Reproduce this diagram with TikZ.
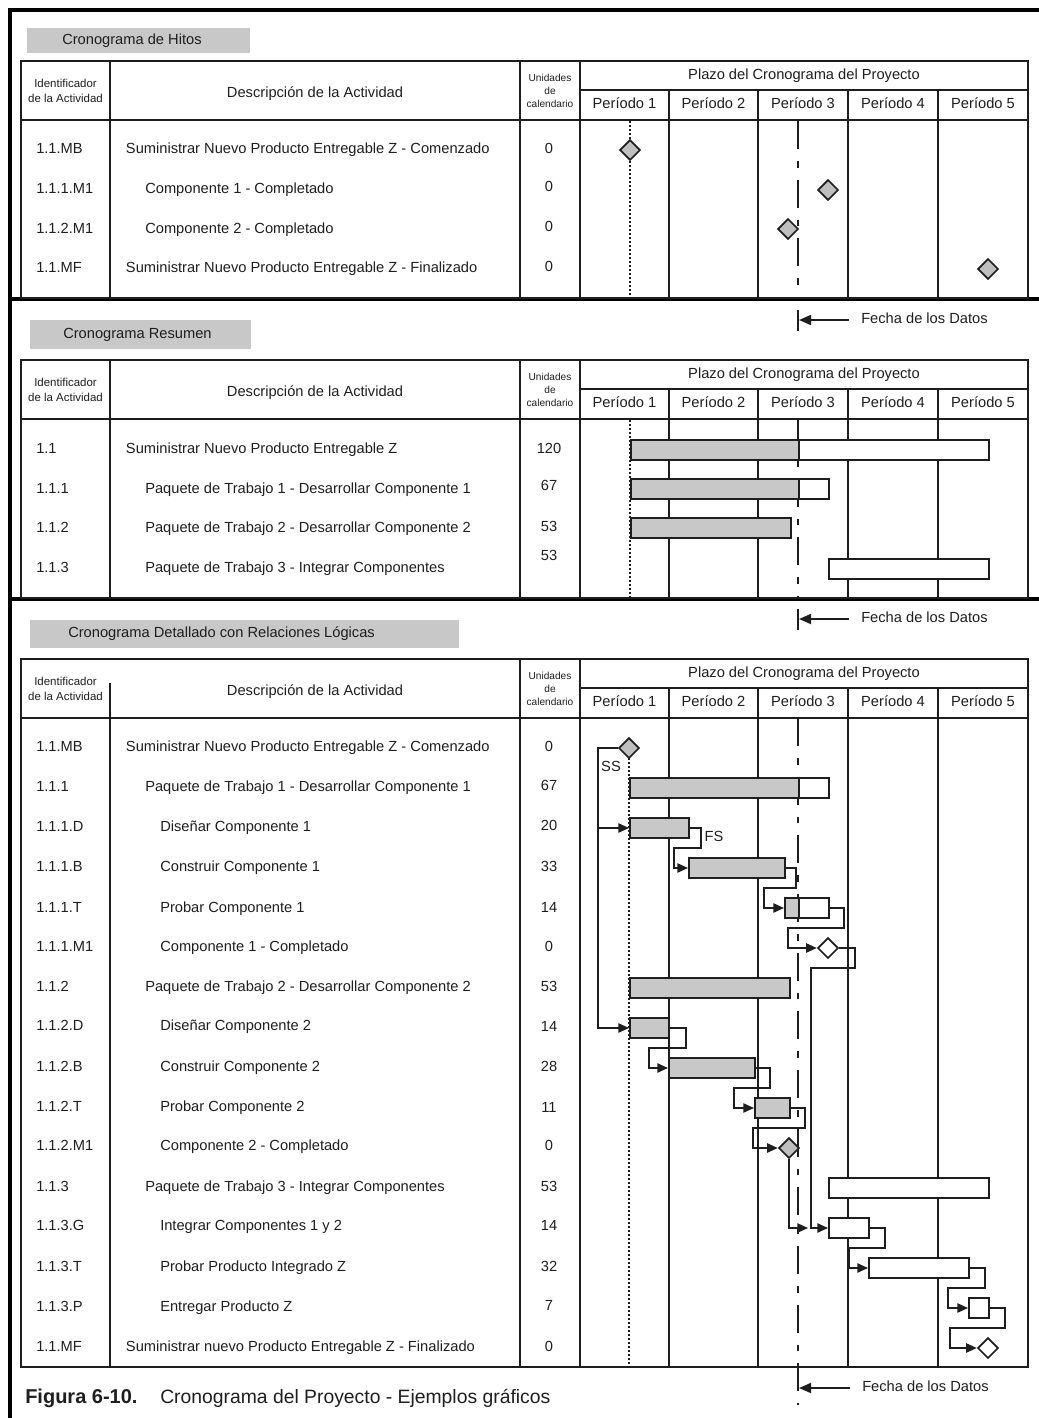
\documentclass[tikz,border=0pt]{standalone}
\usepackage{fontspec}
\setmainfont{Liberation Sans}
\usetikzlibrary{shapes.geometric,arrows.meta,calc}
\definecolor{ink}{RGB}{30,30,30}
\definecolor{barfill}{RGB}{200,200,200}
\definecolor{boxfill}{RGB}{200,200,200}
\definecolor{msfill}{RGB}{190,190,190}
\newcommand\gtable[3]{%
  \draw[tbl] (21,#1) rectangle (1028,#2);
  \draw[tbl] (21,#1+59) -- (1028,#1+59);
  \draw[tbl] (580,#1+29) -- (1028,#1+29);
  \draw[tbl] (520,#1) -- (520,#2);
  \draw[tbl] (580,#1) -- (580,#2);
  \foreach \xx in {669,758,848,938} {\draw[tbl] (\xx,#1+29) -- (\xx,#2);}
  \node[hid] (#3id) at (65.5,#1+30) {Identificador\\de la Actividad};
  \node[hdesc] (#3desc) at (315,#1+33) {Descripción de la Actividad};
  \node[hunit] (#3unit) at (550,#1+30) {Unidades\\de\\calendario};
  \node[hdesc] (#3plazo) at (804,#1+15) {Plazo del Cronograma del Proyecto};
  \foreach \ii/\xx in {1/624.5,2/713.5,3/803,4/893,5/983} {\node[hdesc] (#3p\ii) at (\xx,#1+44.5) {Período \ii};}
}
\newcommand\rowtext[7]{%
  \node[rowtxt,anchor=west] (#1i) at (36,#2) {#3};
  \node[rowtxt,anchor=west] (#1d) at (#4,#2) {#5};
  \node[rowtxt] (#1u) at (549,#7) {#6};
}
\begin{document}
\begin{tikzpicture}[x=0.75pt,y=-0.75pt,
  every node/.style={text=ink, inner sep=0pt},
  rowtxt/.style={font=\fontsize{11}{13}\selectfont, text height=7.6pt, text depth=3pt},
  hdesc/.style={font=\fontsize{11}{13}\selectfont, text height=7.6pt, text depth=3pt},
  hid/.style={font=\fontsize{8.6}{11.5}\selectfont, align=center},
  hunit/.style={font=\fontsize{7.6}{9.8}\selectfont, align=center},
  titletxt/.style={font=\fontsize{11}{13}\selectfont, text height=7.6pt, text depth=3pt, anchor=west},
  frame/.style={draw=black, line width=3.5pt},
  sep/.style={draw=black, line width=2.6pt},
  tbl/.style={draw=ink, line width=1.4pt},
  dotline/.style={draw=ink, line width=1.5pt, dash pattern=on 1.2pt off 1.8pt},
  dateline/.style={draw=ink, line width=1.5pt, dash pattern=on 21pt off 9pt on 5pt off 9pt},
  gbar/.style={draw=ink, line width=1.4pt, fill=barfill, minimum height=15pt, anchor=west},
  wbar/.style={gbar, fill=white},
  msg/.style={diamond, draw=ink, line width=1.3pt, fill=msfill, minimum width=15.5pt, minimum height=15.5pt, inner sep=0pt},
  msw/.style={msg, fill=white},
  conn/.style={draw=ink, line width=1.1pt, -{Triangle[length=8pt,width=7pt]}},
  datearr/.style={draw=ink, line width=1.3pt, -{Triangle[length=9pt,width=7.5pt]}, shorten <=9pt},
]
\useasboundingbox (0,0) rectangle (1039,1418);

% ---------- outer frame and separators
\draw[frame] (10,1418) -- (10,10) -- (1039,10);
\draw[sep] (10,299) -- (1039,299);
\draw[sep] (10,599) -- (1039,599);

% ---------- title boxes
\fill[boxfill] (27,28) rectangle (250,53);
\node[titletxt] (title1) at (62,41) {Cronograma de Hitos};
\fill[boxfill] (30,320) rectangle (251,349);
\node[titletxt] (title2) at (63,335) {Cronograma Resumen};
\fill[boxfill] (30,620) rectangle (459,648);
\node[titletxt] (title3) at (68,634) {Cronograma Detallado con Relaciones Lógicas};

% ---------- tables
\gtable{61}{298}{A}
\draw[tbl] (110,61) -- (110,298);
\gtable{360}{598}{B}
\draw[tbl] (110,360) -- (110,598);
\gtable{659}{1367}{C}
\draw[tbl] (110,683) -- (110,1367);

% ---------- start and data-date lines
\draw[dotline] (630,121) -- (630,298);
\draw[dotline] (630,420) -- (630,598);
\draw[dotline] (629,758) -- (629,1367);
\draw[dateline] (798,121) -- (798,298);
\draw[dateline] (798,420) -- (798,598);
\draw[dateline] (798,718) -- (798,1405);

% ---------- data date markers
\draw[tbl] (798,310) -- (798,331);
\coordinate (dd1) at (799,320);
\node[rowtxt,anchor=west] (fd1) at (861,320) {Fecha de los Datos};
\draw[datearr] (fd1.west) -- (dd1);
\draw[tbl] (798,609) -- (798,630);
\coordinate (dd2) at (799,619);
\node[rowtxt,anchor=west] (fd2) at (861,619) {Fecha de los Datos};
\draw[datearr] (fd2.west) -- (dd2);
\coordinate (dd3) at (799,1388);
\node[rowtxt,anchor=west] (fd3) at (862,1388) {Fecha de los Datos};
\draw[datearr] (fd3.west) -- (dd3);

% ---------- section 1: milestones
\node[msg] (h1) at (630,150) {};
\node[msg] (h2) at (828,190) {};
\node[msg] (h3) at (788,229) {};
\node[msg] (h4) at (988,269) {};
\rowtext{a1}{150}{1.1.MB}{125.7}{Suministrar Nuevo Producto Entregable Z - Comenzado}{0}{150}
\rowtext{a2}{190}{1.1.1.M1}{145}{Componente 1 - Completado}{0}{188}
\rowtext{a3}{230}{1.1.2.M1}{145}{Componente 2 - Completado}{0}{228}
\rowtext{a4}{269}{1.1.MF}{125.7}{Suministrar Nuevo Producto Entregable Z - Finalizado}{0}{268}

% ---------- section 2: summary
\node[gbar, minimum width=168*0.75pt] (s1a) at (630,450) {};
\node[wbar, minimum width=190*0.75pt] (s1b) at (798,450) {};
\node[gbar, minimum width=168*0.75pt] (s2a) at (630,489) {};
\node[wbar, minimum width=30*0.75pt] (s2b) at (798,489) {};
\node[gbar, minimum width=160*0.75pt] (s3) at (630,528) {};
\node[wbar, minimum width=160*0.75pt] (s4) at (828,569) {};
\rowtext{b1}{450}{1.1}{125.7}{Suministrar Nuevo Producto Entregable Z}{120}{450}
\rowtext{b2}{490}{1.1.1}{145}{Paquete de Trabajo 1 - Desarrollar Componente 1}{67}{487}
\rowtext{b3}{529}{1.1.2}{145}{Paquete de Trabajo 2 - Desarrollar Componente 2}{53}{528}
\rowtext{b4}{569}{1.1.3}{145}{Paquete de Trabajo 3 - Integrar Componentes}{53}{557}

% ---------- section 3: detailed
\node[msg] (MB) at (629,748) {};
\node[gbar, minimum width=169*0.75pt] (W1a) at (629,788) {};
\node[wbar, minimum width=30*0.75pt] (W1b) at (798,788) {};
\node[gbar, minimum width=59*0.75pt] (D1) at (629,828) {};
\node[gbar, minimum width=96*0.75pt] (B1) at (688,868) {};
\node[gbar, minimum width=14*0.75pt] (T1a) at (784,908) {};
\node[wbar, minimum width=30*0.75pt] (T1b) at (798,908) {};
\node[msw] (M1) at (828,948) {};
\node[gbar, minimum width=160*0.75pt] (W2) at (629,988) {};
\node[gbar, minimum width=39*0.75pt] (D2) at (629,1028) {};
\node[gbar, minimum width=86*0.75pt] (B2) at (668,1068) {};
\node[gbar, minimum width=35*0.75pt] (T2) at (754,1108) {};
\node[msg] (M2) at (789,1148) {};
\node[wbar, minimum width=160*0.75pt] (W3) at (828,1188) {};
\node[wbar, minimum width=40*0.75pt] (G3) at (828,1228) {};
\node[wbar, minimum width=100*0.75pt] (T3) at (868,1268) {};
\node[wbar, minimum width=20*0.75pt] (P3) at (968,1308) {};
\node[msw] (MF) at (988,1348) {};

% connectors
\draw[conn] (MB.west) -- ++(-20,0) |- (D1.west);
\draw[conn] (MB.west) -- ++(-20,0) |- (D2.west);
\draw[conn] (D1.east) -- ++(11,0) -- ++(0,20) -| ($(B1.west)+(-14,0)$) -- (B1.west);
\draw[conn] (B1.east) -- ++(10,0) -- ++(0,20) -| ($(T1a.west)+(-20,0)$) -- (T1a.west);
\draw[conn] (T1b.east) -- ++(14,0) -- ++(0,20) -| ($(M1.west)+(-29,0)$) -- (M1.west);
\draw[conn] (M1.east) -- ++(16,0) -- ++(0,20) -| ($(G3.west)+(-17,0)$) -- (G3.west);
\draw[conn] (D2.east) -- ++(16,0) -- ++(0,20) -| ($(B2.west)+(-19,0)$) -- (B2.west);
\draw[conn] (B2.east) -- ++(14,0) -- ++(0,20) -| ($(T2.west)+(-20,0)$) -- (T2.west);
\draw[conn] (T2.east) -- ++(14,0) -- ++(0,20) -| ($(M2.west)+(-25,0)$) -- (M2.west);
\draw[conn] (M2.south) |- ($(G3.west)+(-20,0)$);
\draw[conn] (G3.east) -- ++(15,0) -- ++(0,20) -| ($(T3.west)+(-19,0)$) -- (T3.west);
\draw[conn] (T3.east) -- ++(15,0) -- ++(0,20) -| ($(P3.west)+(-20,0)$) -- (P3.west);
\draw[conn] (P3.east) -- ++(15,0) -- ++(0,20) -| ($(MF.west)+(-27,0)$) -- (MF.west);
\node[rowtxt] (lss) at (611,768) {SS};
\node[rowtxt] (lfs) at (714,838) {FS};

\rowtext{c0}{748}{1.1.MB}{125.7}{Suministrar Nuevo Producto Entregable Z - Comenzado}{0}{748}
\rowtext{c1}{788}{1.1.1}{145}{Paquete de Trabajo 1 - Desarrollar Componente 1}{67}{787}
\rowtext{c2}{828}{1.1.1.D}{160}{Diseñar Componente 1}{20}{827}
\rowtext{c3}{868}{1.1.1.B}{160}{Construir Componente 1}{33}{868}
\rowtext{c4}{909}{1.1.1.T}{160}{Probar Componente 1}{14}{909}
\rowtext{c5}{948}{1.1.1.M1}{160}{Componente 1 - Completado}{0}{948}
\rowtext{c6}{988}{1.1.2}{145}{Paquete de Trabajo 2 - Desarrollar Componente 2}{53}{988}
\rowtext{c7}{1027}{1.1.2.D}{160}{Diseñar Componente 2}{14}{1028}
\rowtext{c8}{1068}{1.1.2.B}{160}{Construir Componente 2}{28}{1068}
\rowtext{c9}{1108}{1.1.2.T}{160}{Probar Componente 2}{11}{1109}
\rowtext{c10}{1147}{1.1.2.M1}{160}{Componente 2 - Completado}{0}{1147}
\rowtext{c11}{1188}{1.1.3}{145}{Paquete de Trabajo 3 - Integrar Componentes}{53}{1188}
\rowtext{c12}{1227}{1.1.3.G}{160}{Integrar Componentes 1 y 2}{14}{1227}
\rowtext{c13}{1268}{1.1.3.T}{160}{Probar Producto Integrado Z}{32}{1268}
\rowtext{c14}{1308}{1.1.3.P}{160}{Entregar Producto Z}{7}{1307}
\rowtext{c15}{1348}{1.1.MF}{125.7}{Suministrar nuevo Producto Entregable Z - Finalizado}{0}{1348}

% ---------- caption
\node[anchor=west, font=\bfseries\fontsize{15}{18}\selectfont, text height=11pt, text depth=3pt] (figlab) at (25,1398) {Figura 6-10.};
\node[anchor=west, font=\fontsize{14.5}{18}\selectfont, text height=11pt, text depth=3pt] (figcap) at (160,1398) {Cronograma del Proyecto - Ejemplos gráficos};
\end{tikzpicture}
\end{document}
